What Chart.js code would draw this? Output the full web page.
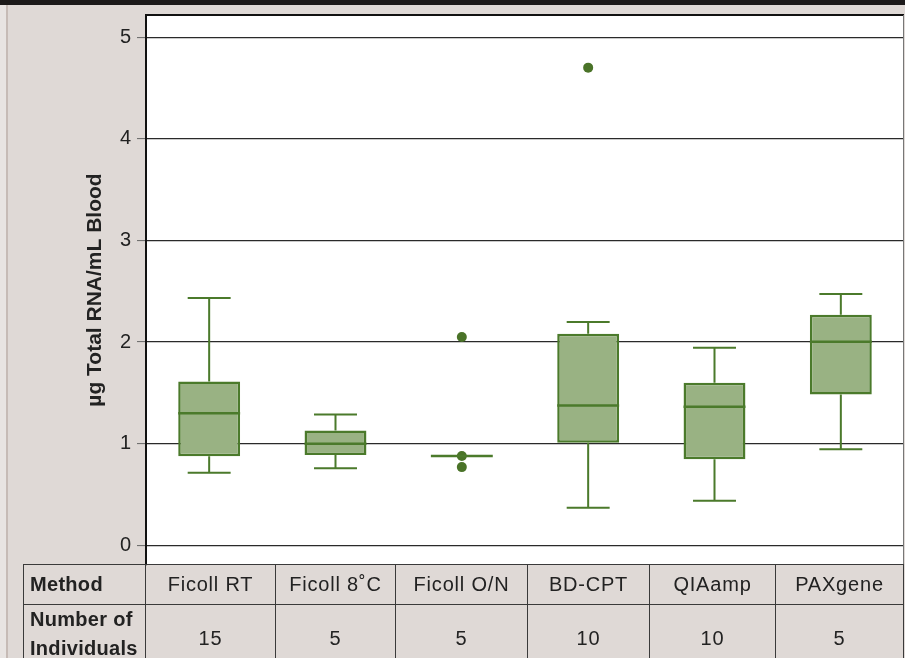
<!DOCTYPE html>
<html>
<head>
<meta charset="utf-8">
<script src="https://cdn.jsdelivr.net/npm/chart.js@4/dist/chart.umd.min.js"></script>
<style>
html,body{margin:0;padding:0;width:905px;height:658px;overflow:hidden;background:#e8e4e2;font-family:"Liberation Sans",Arial,sans-serif;}
#topbar{position:absolute;left:0;top:0;width:905px;height:5px;background:#1c1a1a;}
#panel{position:absolute;left:6px;top:5px;width:897px;height:653px;background:#dfd9d6;border-left:2px solid #c6bbb6;}
#wrap{position:absolute;left:8px;top:5px;width:897px;height:653px;}
#tbl{position:absolute;left:23px;top:564px;border-collapse:collapse;table-layout:fixed;}
#tbl td{border:1.5px solid #3a3a3a;padding:0;text-align:center;vertical-align:middle;color:#222;font-size:20px;font-family:"Liberation Sans",Arial,sans-serif;letter-spacing:0.8px;white-space:nowrap;overflow:hidden;}
#tbl td.h{text-align:left;font-weight:bold;padding-left:6px;letter-spacing:0.3px;}
#tbl tr.r1 td{height:39px;}
#tbl tr.r2 td{height:66px;}
#tbl tr.r2 td.h{line-height:29px;padding-bottom:8px;height:58px;}
</style>
</head>
<body>
<div id="topbar"></div>
<div id="panel"></div>
<div id="wrap"><canvas id="c" width="897" height="653"></canvas></div>
<table id="tbl"><colgroup id="cols"></colgroup><tbody id="tb"></tbody></table>
<script>
// ---- data ----
const categories = ['Ficoll RT', 'Ficoll 8˚C', 'Ficoll O/N', 'BD-CPT', 'QIAamp', 'PAXgene'];
const counts = ['15', '5', '5', '10', '10', '5'];
const whiskerLow  = [0.715, 0.76, 0.88, 0.37, 0.44, 0.945];
const q1          = [0.878, 0.888, 0.88, 1.01, 0.848, 1.485];
const medians     = [1.30, 1.00, 0.88, 1.377, 1.364, 2.004];
const q3          = [1.613, 1.131, 0.88, 2.083, 1.60, 2.27];
const whiskerHigh = [2.433, 1.288, 0.88, 2.197, 1.945, 2.472];
const outlierCats = ['Ficoll O/N', 'Ficoll O/N', 'Ficoll O/N', 'BD-CPT'];
const outlierVals = [2.05, 0.88, 0.77, 4.70];
const yTicks = [0, 1, 2, 3, 4, 5];
const yTitle = 'µg Total RNA/mL Blood';
const rowHeads = ['Method', 'Number of<br>Individuals'];
const colWidths = [122, 130, 120, 132, 122, 126, 128];

// ---- table ----
const cols = document.getElementById('cols');
colWidths.forEach(w => { const c = document.createElement('col'); c.style.width = w + 'px'; cols.appendChild(c); });
document.getElementById('tbl').style.width = colWidths.reduce((a, b) => a + b, 0) + 'px';
const tb = document.getElementById('tb');
[categories, counts].forEach((row, r) => {
  const tr = document.createElement('tr');
  tr.className = 'r' + (r + 1);
  const th = document.createElement('td'); th.className = 'h'; th.innerHTML = rowHeads[r]; tr.appendChild(th);
  row.forEach(v => { const td = document.createElement('td'); td.textContent = v; tr.appendChild(td); });
  tb.appendChild(tr);
});

// ---- chart ----
const FILL = '#99b283', STROKE = '#4b7a2b', DOT = '#4a7328';

const boxPlugin = {
  id: 'boxWhiskers',
  afterDatasetsDraw(chart) {
    const ctx = chart.ctx, y = chart.scales.y, x = chart.scales.x;
    const meta = chart.getDatasetMeta(0);
    const catW = (x.right - x.left) / categories.length;
    ctx.save();
    ctx.strokeStyle = STROKE;
    meta.data.forEach((bar, i) => {
      const cx = bar.x, hw = bar.width / 2, cap = catW * 0.17;
      const yMax = y.getPixelForValue(whiskerHigh[i]);
      const yQ3 = y.getPixelForValue(q3[i]);
      const yQ1 = y.getPixelForValue(q1[i]);
      const yMin = y.getPixelForValue(whiskerLow[i]);
      const yMed = y.getPixelForValue(medians[i]);
      ctx.lineWidth = 2;
      ctx.beginPath();
      ctx.moveTo(cx, yQ3); ctx.lineTo(cx, yMax);
      ctx.moveTo(cx, yQ1); ctx.lineTo(cx, yMin);
      ctx.moveTo(cx - cap, yMax); ctx.lineTo(cx + cap, yMax);
      ctx.moveTo(cx - cap, yMin); ctx.lineTo(cx + cap, yMin);
      ctx.stroke();
      ctx.lineWidth = 2.5;
      ctx.beginPath();
      ctx.moveTo(cx - hw, yMed); ctx.lineTo(cx + hw, yMed);
      ctx.stroke();
    });
    ctx.restore();
  }
};

const framePlugin = {
  id: 'frame',
  beforeDraw(chart) {
    const {ctx, chartArea: a} = chart;
    ctx.save();
    ctx.fillStyle = '#ffffff';
    ctx.fillRect(a.left, a.top, a.right - a.left, a.bottom - a.top);
    ctx.restore();
  },
  afterDraw(chart) {
    const {ctx, chartArea: a} = chart;
    ctx.save();
    ctx.strokeStyle = '#111';
    ctx.lineWidth = 2;
    ctx.beginPath();
    ctx.moveTo(a.left, a.bottom); ctx.lineTo(a.left, a.top); ctx.lineTo(a.right, a.top);
    ctx.stroke();
    ctx.strokeStyle = '#777';
    ctx.lineWidth = 1;
    ctx.beginPath();
    ctx.moveTo(a.right - 0.5, a.top); ctx.lineTo(a.right - 0.5, a.bottom);
    ctx.stroke();
    ctx.restore();
  }
};

new Chart(document.getElementById('c'), {
  type: 'bar',
  data: {
    labels: categories,
    datasets: [
      {
        type: 'bar',
        data: categories.map((c, i) => [q1[i], q3[i]]),
        backgroundColor: FILL,
        borderColor: STROKE,
        borderWidth: 2.5,
        borderSkipped: false,
        barPercentage: 0.49,
        categoryPercentage: 1
      },
      {
        type: 'line',
        data: outlierCats.map((c, i) => ({x: c, y: outlierVals[i]})),
        showLine: false,
        pointRadius: 5,
        pointBackgroundColor: DOT,
        pointBorderColor: DOT,
        pointBorderWidth: 0
      }
    ]
  },
  options: {
    responsive: false,
    devicePixelRatio: 1,
    animation: false,
    events: [],
    layout: {autoPadding: false, padding: {left: 0, right: 1, top: 10, bottom: 93}},
    plugins: {legend: {display: false}, tooltip: {enabled: false}},
    scales: {
      x: {display: false, offset: true},
      y: {
        min: -0.193,
        max: 5.218,
        afterBuildTicks: s => { s.ticks = yTicks.map(v => ({value: v})); },
        afterFit: s => { s.width = 138; s.paddingTop = 0; s.paddingBottom = 0; },
        ticks: {color: '#222', padding: 6, font: {family: '"Liberation Sans", Arial, sans-serif', size: 20}},
        grid: {color: '#2a2a2a', lineWidth: 1.2, tickLength: 9, tickColor: '#666', tickWidth: 1},
        border: {display: true, color: '#111', width: 2},
        title: {
          display: true,
          text: yTitle,
          color: '#222',
          font: {family: '"Liberation Sans", Arial, sans-serif', size: 21, weight: 'bold'},
          padding: {top: 75, bottom: 0}
        }
      }
    }
  },
  plugins: [boxPlugin, framePlugin]
});
</script>
</body>
</html>
